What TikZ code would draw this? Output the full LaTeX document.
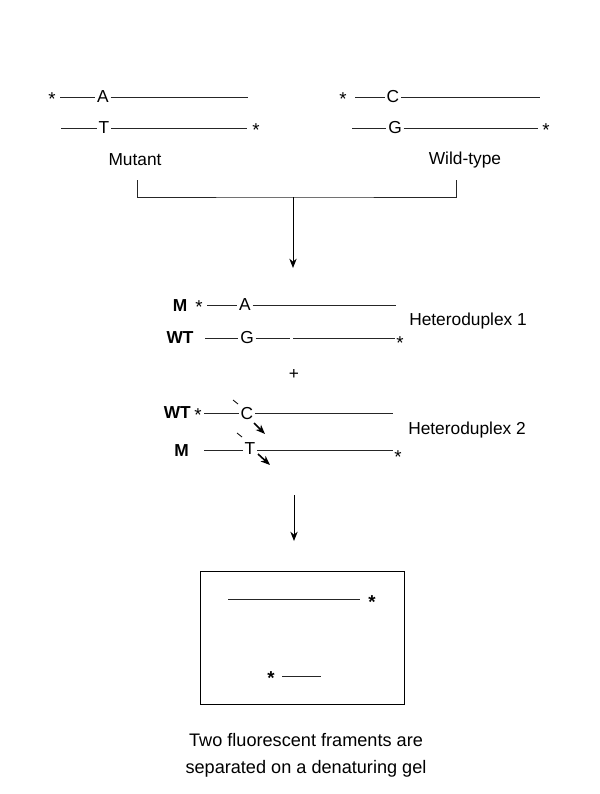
\documentclass[tikz,border=0pt]{standalone}
\usepackage{fontspec}
\setmainfont{Liberation Sans}
\usetikzlibrary{arrows.meta}
\begin{document}
\begin{tikzpicture}[x=0.75pt,y=-0.75pt,
  font=\fontsize{13}{15.5}\selectfont,
  strand/.style={line width=0.75pt, draw=black!85},
  letter/.style={inner ysep=0pt, inner xsep=1.2pt},
  st/.style={anchor=base, yshift=-6.6pt, inner sep=0pt, font=\fontsize{14}{15.5}\selectfont},
  bst/.style={anchor=base, yshift=-6.6pt, inner sep=0pt, font=\fontsize{14}{15.5}\selectfont\bfseries},
  lbl/.style={inner sep=0pt, font=\fontsize{13}{15.5}\selectfont\bfseries},
  txt/.style={inner sep=0pt},
  arr/.style={-{Stealth[length=7pt,width=5.5pt]}, line width=0.75pt},
  hop/.style={-{Stealth[length=7pt,width=5.5pt,inset=2pt]}, line width=1.2pt},
  tick/.style={line width=0.6pt}
]
\useasboundingbox (0,0) rectangle (600,794);

% ---------- Mutant ----------
\node[st] (ms1) at (52,97) {*};
\coordinate (ma1) at (60,97);
\node[letter] (mA) at (103,97) {A};
\coordinate (ma4) at (248,97);
\draw[strand] (ma1) -- (mA.west) (mA.east) -- (ma4);
\coordinate (mt1) at (61,128);
\node[letter] (mT) at (104,128) {T};
\coordinate (mt4) at (247,128);
\draw[strand] (mt1) -- (mT.west) (mT.east) -- (mt4);
\node[st] (ms2) at (256,128) {*};
\node[txt] (mut) at (135,160) {Mutant};

% ---------- Wild-type ----------
\node[st] (ws1) at (343,97) {*};
\coordinate (wc1) at (355,97);
\node[letter] (wC) at (393,97) {C};
\coordinate (wc4) at (540,97);
\draw[strand] (wc1) -- (wC.west) (wC.east) -- (wc4);
\coordinate (wg1) at (352,128);
\node[letter] (wG) at (395,128) {G};
\coordinate (wg4) at (538,128);
\draw[strand] (wg1) -- (wG.west) (wG.east) -- (wg4);
\node[st] (ws2) at (546,128) {*};
\node[txt] (wt) at (465,160) {Wild-type};

% ---------- bracket and arrow ----------
\coordinate (bl) at (137,180);
\coordinate (br) at (456,180);
\coordinate (bj) at (293,197);
\coordinate (ba) at (293,268);
\draw[strand] (bl) |- (bj) -| (br);
\draw[arr] (bj) -- (ba);

% ---------- Heteroduplex 1 ----------
\node[lbl] (h1m) at (180,306) {M};
\node[st] (h1s1) at (199,305) {*};
\coordinate (h1a1) at (207,305);
\node[letter] (h1A) at (245,305) {A};
\coordinate (h1a4) at (396,305);
\draw[strand] (h1a1) -- (h1A.west) (h1A.east) -- (h1a4);
\node[lbl] (h1w) at (180,338) {WT};
\coordinate (h1g1) at (205,338);
\node[letter] (h1G) at (247,338) {G};
\coordinate (h1g2) at (290,338);
\coordinate (h1g3) at (293,338);
\coordinate (h1g4) at (395,338);
\draw[strand] (h1g1) -- (h1G.west) (h1G.east) -- (h1g2) (h1g3) -- (h1g4);
\node[st] (h1s2) at (400,341) {*};
\node[txt, anchor=west] (h1l) at (409,321) {Heteroduplex 1};

\node[txt] (plus) at (294,374) {+};

% ---------- Heteroduplex 2 ----------
\node[lbl, anchor=east] (h2w) at (191,413) {WT};
\node[st] (h2s1) at (198,413) {*};
\coordinate (h2c1) at (204,413);
\node[letter] (h2C) at (247,414) {C};
\coordinate (h2c4) at (393,413);
\draw[strand] (h2c1) -- (h2C.west |- h2c1) (h2C.east |- h2c1) -- (h2c4);
\coordinate (tc1) at (233,400);
\coordinate (tc2) at (238,404);
\draw[tick] (tc1) -- (tc2);
\coordinate (ac1) at (254,423);
\coordinate (ac2) at (265,434);
\draw[hop] (ac1) -- (ac2);

\node[lbl, anchor=east] (h2m) at (189,451) {M};
\coordinate (h2t1) at (204,450);
\node[letter] (h2T) at (250,449) {T};
\coordinate (h2t4) at (393,450);
\draw[strand] (h2t1) -- (h2T.west |- h2t1) (h2T.east |- h2t1) -- (h2t4);
\node[st] (h2s2) at (398,455) {*};
\coordinate (tt1) at (237,433);
\coordinate (tt2) at (242,437);
\draw[tick] (tt1) -- (tt2);
\coordinate (at1) at (258,454);
\coordinate (at2) at (270,465);
\draw[hop] (at1) -- (at2);
\node[txt, anchor=west] (h2l) at (408,430) {Heteroduplex 2};

% ---------- arrow to gel ----------
\coordinate (ga1) at (294,495);
\coordinate (ga2) at (294,541);
\draw[arr] (ga1) -- (ga2);

% ---------- gel ----------
\node[draw, line width=0.75pt, minimum width=204*0.75pt, minimum height=133*0.75pt, inner sep=0pt] (gel) at (302,637.5) {};
\coordinate (g1a) at (228,599);
\coordinate (g1b) at (360,599);
\draw[strand] (g1a) -- (g1b);
\node[bst] (gs1) at (372,600) {*};
\node[bst] (gs2) at (271,676) {*};
\coordinate (g2a) at (282,676);
\coordinate (g2b) at (321,676);
\draw[strand] (g2a) -- (g2b);

% ---------- caption ----------
\node[txt, align=center, font=\fontsize{13.6}{20}\selectfont] (cap) at (306,755) {Two fluorescent framents are\\separated on a denaturing gel};
\end{tikzpicture}
\end{document}
